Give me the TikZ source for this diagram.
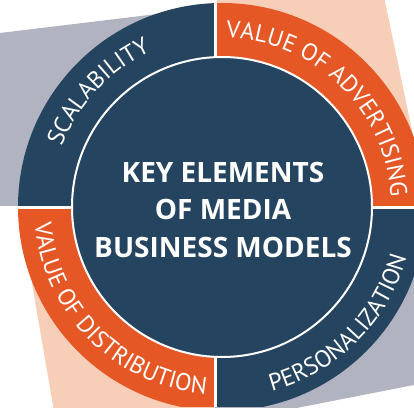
\documentclass[tikz,border=0pt]{standalone}
\usepackage{fontspec}
\setmainfont{Open Sans}
\newfontfamily\ringfont{PT Sans}
\usetikzlibrary{decorations.text}
\definecolor{navy}{HTML}{254460}
\definecolor{flame}{HTML}{E65726}
\definecolor{peach}{HTML}{F7CEB7}
\definecolor{slate}{HTML}{B1B3C1}

\begin{document}
\begin{tikzpicture}[x=1pt, y=1pt]
    \tikzset{
      core/.style={circle, fill=navy, draw=white, line width=2pt,
                   minimum size=300pt, inner sep=0pt},
      ringtext/.style={decorate, decoration={text along path,
                   text align=center, text color=white,
                   text={|\ringfont\fontsize{24}{24}\selectfont|#1}}}
    }
    \useasboundingbox (0,0) rectangle (414,407);
    \clip (0,0) rectangle (414,407);

    \coordinate (O) at (222,200);
    \coordinate (D) at (215,199);

    % Fondo inclinado
    \fill[slate] (0,374) -- (215,400) -- (D) -- (0,199) -- cycle;
    \fill[peach] (215,420) -- (382,420) -- (414,267) -- (414,199) -- (D) -- cycle;
    \fill[peach] (19,199) -- (D) -- (215,-10) -- (55,-10) -- cycle;
    \fill[slate] (D) -- (424,199) -- (424,24) -- (215,-17) -- cycle;

    % Anillo en cuatro cuadrantes
    \begin{scope}
      \clip (O) circle (204);
      \fill[navy] (D) rectangle (0,407);
      \fill[flame] (D) rectangle (414,407);
      \fill[flame] (D) rectangle (0,0);
      \fill[navy] (D) rectangle (414,0);
    \end{scope}
    \draw[white, line width=3pt] (215,0) -- (215,407);
    \draw[white, line width=3pt] (0,199) -- (414,199);

    \node[core] (core) at (O) {};
    \node[text=white, align=center,
          font=\bfseries\fontsize{28}{37.5}\selectfont] (title) at (223,197.5)
      {KEY ELEMENTS\\OF MEDIA\\BUSINESS MODELS};

    % Etiquetas del anillo
    \path[ringtext=SCALABILITY]
      ([shift={(182:171)}]O) arc[start angle=182, end angle=92, radius=171];
    \path[ringtext=VALUE OF ADVERTISING]
      ([shift={(91:169)}]O) arc[start angle=91, end angle=1, radius=169];
    \path[ringtext=VALUE OF DISTRIBUTION]
      ([shift={(180:188)}]O) arc[start angle=180, end angle=270, radius=188];
    \path[ringtext=PERSONALIZATION]
      ([shift={(270:191)}]O) arc[start angle=270, end angle=360, radius=191];
  \end{tikzpicture}
\end{document}
